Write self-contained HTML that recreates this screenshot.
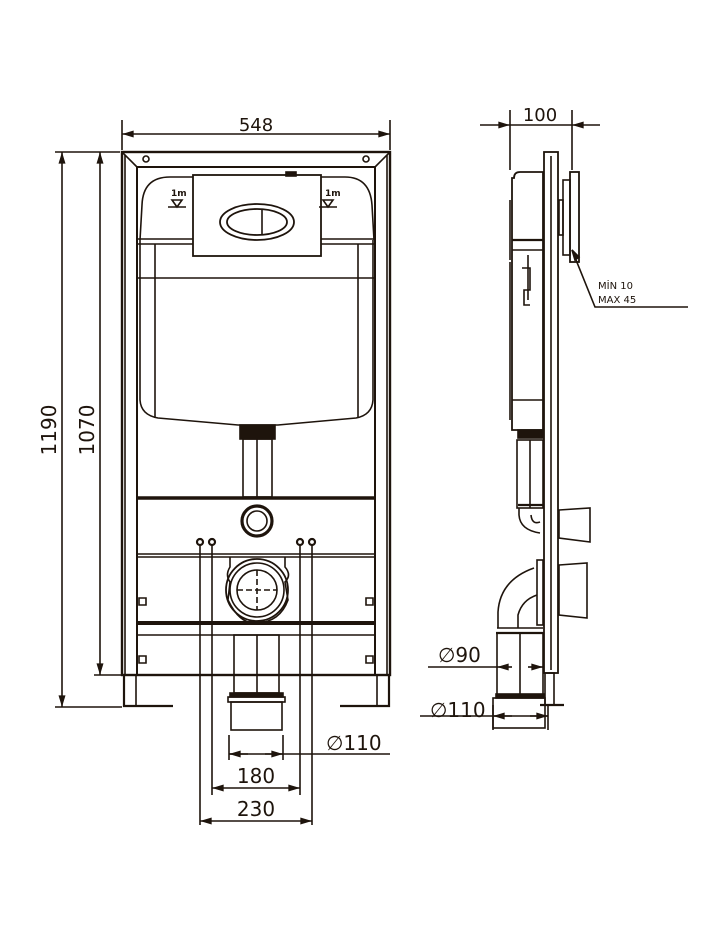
<!DOCTYPE html>
<html><head><style>html,body{margin:0;padding:0;background:#fff}svg{display:block}
text{font-family:"DejaVu Sans","Liberation Sans",sans-serif;fill:#1e140c}</style></head>
<body>
<svg width="720" height="942" viewBox="0 0 720 942" xmlns="http://www.w3.org/2000/svg">
<defs>
<marker id="a" viewBox="0 0 10 6" refX="10" refY="3" markerWidth="18" markerHeight="7" orient="auto-start-reverse" markerUnits="userSpaceOnUse"><path d="M0,0L10,3L0,6z" fill="#1e140c"/></marker>
</defs>
<g fill="none" stroke="#1e140c" stroke-width="1.6">
<!-- dims front -->
<line x1="122" y1="120" x2="122" y2="150"/><line x1="390" y1="120" x2="390" y2="150"/>
<line x1="122" y1="134" x2="390" y2="134" marker-start="url(#a)" marker-end="url(#a)"/>
<line x1="55" y1="152" x2="120" y2="152"/><line x1="55" y1="707" x2="122" y2="707"/><line x1="94" y1="675" x2="122" y2="675"/>
<line x1="62" y1="152" x2="62" y2="707" marker-start="url(#a)" marker-end="url(#a)"/>
<line x1="100" y1="152" x2="100" y2="675" marker-start="url(#a)" marker-end="url(#a)"/>
<!-- frame -->
<rect x="122" y="152" width="268" height="523" stroke-width="2.4"/>
<rect x="137" y="167" width="238" height="508" stroke-width="2"/>
<line x1="125" y1="155" x2="125" y2="675"/><line x1="387" y1="155" x2="387" y2="675"/>
<line x1="122" y1="152" x2="137" y2="167"/><line x1="390" y1="152" x2="375" y2="167"/>
<circle cx="146" cy="159" r="3"/><circle cx="366" cy="159" r="3"/>
<polyline points="124,675 124,706 173,706" stroke-width="2.2"/><line x1="136" y1="675" x2="136" y2="706"/>
<polyline points="389,675 389,706 340,706" stroke-width="2.2"/><line x1="377" y1="675" x2="377" y2="706"/>
<!-- tank -->
<path d="M193,177 H170 Q143,177 142,205 L140,240 M321,177 H345 Q370,177 372,205 L374,240"/>
<path d="M140,240 V400 Q141,415 158,418 L238,425 H278 L356,418 Q372,415 373,400 V240"/>
<line x1="137" y1="239" x2="375" y2="239"/><line x1="137" y1="244" x2="375" y2="244"/>
<line x1="138" y1="278" x2="375" y2="278"/>
<line x1="155" y1="244" x2="155" y2="418"/><line x1="358" y1="244" x2="358" y2="418"/>
<rect x="193" y="175" width="128" height="81" fill="#fff" stroke-width="1.8"/>
<ellipse cx="257" cy="222" rx="37" ry="18" stroke-width="1.8"/><ellipse cx="257" cy="222" rx="30" ry="13" stroke-width="1.8"/>
<line x1="262" y1="209" x2="262" y2="235"/>
<rect x="286" y="172" width="10" height="4" fill="#1e140c"/>
<path d="M172,200l5,7l5,-7z M168,207h18 M323,200l5,7l5,-7z M319,207h18"/>
<!-- pipe -->
<rect x="240" y="425" width="35" height="14" fill="#1e140c"/>
<rect x="243" y="439" width="29" height="58"/><line x1="257" y1="439" x2="257" y2="497"/>
<line x1="137" y1="498" x2="375" y2="498" stroke-width="3.5"/>
<line x1="137" y1="554" x2="375" y2="554"/><line x1="137" y1="557" x2="375" y2="557"/>
<circle cx="257" cy="521" r="15" stroke-width="3.2"/><circle cx="257" cy="521" r="10"/>
<circle cx="200" cy="542" r="3" stroke-width="2.2"/><circle cx="212" cy="542" r="3" stroke-width="2.2"/>
<circle cx="300" cy="542" r="3" stroke-width="2.2"/><circle cx="312" cy="542" r="3" stroke-width="2.2"/>
<path d="M230,557 V567 Q225,575 230,582 L228,600 Q240,625 257,623 Q280,622 288,600 L285,582 Q292,575 285,567 V557"/>
<circle cx="257" cy="590" r="31" stroke-width="1.8"/><circle cx="257" cy="590" r="27"/><circle cx="257" cy="590" r="20"/>
<path d="M237,590h40M257,570v40" stroke-dasharray="6 3"/>
<line x1="137" y1="623" x2="375" y2="623" stroke-width="4"/>
<line x1="137" y1="635" x2="375" y2="635"/>
<rect x="234" y="635" width="45" height="58"/><line x1="257" y1="635" x2="257" y2="693"/>
<rect x="230" y="693" width="53" height="4" fill="#1e140c"/>
<rect x="228" y="697" width="57" height="5"/><rect x="231" y="702" width="51" height="28"/>
<path d="M139,598h7v7h-7z M139,656h7v7h-7z M366,598h7v7h-7z M366,656h7v7h-7z"/>
<line x1="200" y1="545" x2="200" y2="825"/><line x1="212" y1="545" x2="212" y2="795"/>
<line x1="300" y1="545" x2="300" y2="795"/><line x1="312" y1="545" x2="312" y2="825"/>
<line x1="229" y1="735" x2="229" y2="760"/><line x1="283" y1="735" x2="283" y2="760"/>
<line x1="229" y1="754" x2="390" y2="754"/>
<line x1="248" y1="754" x2="229" y2="754" marker-end="url(#a)"/><line x1="265" y1="754" x2="283" y2="754" marker-end="url(#a)"/>
<line x1="212" y1="788" x2="300" y2="788" marker-start="url(#a)" marker-end="url(#a)"/>
<line x1="200" y1="821" x2="312" y2="821" marker-start="url(#a)" marker-end="url(#a)"/>
<!-- side view -->
<line x1="510" y1="110" x2="510" y2="170"/><line x1="572" y1="110" x2="572" y2="170"/>
<line x1="480" y1="125" x2="510" y2="125" marker-end="url(#a)"/><line x1="600" y1="125" x2="572" y2="125" marker-end="url(#a)"/>
<line x1="510" y1="125" x2="572" y2="125"/>
<rect x="544" y="152" width="14" height="521" stroke-width="1.8"/><line x1="551" y1="156" x2="551" y2="670"/>
<rect x="545" y="673" width="9" height="32"/><line x1="540" y1="705" x2="564" y2="705" stroke-width="2.2"/>
<path d="M514,178 Q514,172 520,172 H543 V430 H512 V178z" stroke-width="1.8"/>
<line x1="512" y1="240" x2="543" y2="240" stroke-width="2.2"/><line x1="512" y1="250" x2="543" y2="250"/>
<line x1="510" y1="200" x2="510" y2="260"/><line x1="510" y1="262" x2="510" y2="420"/>
<line x1="512" y1="400" x2="543" y2="400"/>
<path d="M528,255 V300 M522,268 H530 V290 H524 V305 H530"/>
<rect x="570" y="172" width="9" height="90" stroke-width="1.8"/><rect x="563" y="180" width="7" height="75"/>
<rect x="559" y="200" width="4" height="35"/>
<polyline points="572,250 595,307 688,307"/>
<path d="M572,250l3,10l4,-3z" fill="#1e140c"/>
<rect x="518" y="430" width="25" height="8" fill="#1e140c"/>
<rect x="517" y="440" width="26" height="68"/><line x1="530" y1="440" x2="530" y2="508"/>
<line x1="518" y1="505" x2="543" y2="505" stroke-width="2.2"/>
<path d="M519,508 V515 Q520,530 540,533 M531,515 Q532,525 540,522"/>
<polygon points="559,510 590,508 590,542 559,538"/>
<polygon points="559,565 587,563 587,618 559,615"/>
<path d="M498,628 V612 Q500,580 534,568 M518,628 V615 Q522,600 537,595"/>
<rect x="537" y="560" width="6" height="65"/>
<line x1="497" y1="628" x2="543" y2="628"/><line x1="496" y1="633" x2="543" y2="633" stroke-width="2.2"/>
<rect x="497" y="633" width="46" height="64"/><line x1="520" y1="633" x2="520" y2="697"/>
<rect x="496" y="694" width="48" height="4" fill="#1e140c"/>
<rect x="493" y="698" width="52" height="30"/>
<line x1="428" y1="667" x2="497" y2="667"/>
<line x1="512" y1="667" x2="497" y2="667" marker-end="url(#a)"/><line x1="528" y1="667" x2="543" y2="667" marker-end="url(#a)"/>
<line x1="420" y1="716" x2="548" y2="716"/>
<line x1="512" y1="716" x2="493" y2="716" marker-end="url(#a)"/><line x1="530" y1="716" x2="548" y2="716" marker-end="url(#a)"/>
<line x1="493" y1="705" x2="493" y2="730"/><line x1="548" y1="705" x2="548" y2="730"/>
</g>
<text x="256" y="131" font-size="18" text-anchor="middle">548</text>
<text x="540" y="121" font-size="18" text-anchor="middle">100</text>
<text transform="translate(56,430) rotate(-90)" font-size="20" text-anchor="middle">1190</text>
<text transform="translate(94,430) rotate(-90)" font-size="20" text-anchor="middle">1070</text>
<text x="326" y="750" font-size="20">∅110</text>
<text x="256" y="783" font-size="20" text-anchor="middle">180</text>
<text x="256" y="816" font-size="20" text-anchor="middle">230</text>
<text x="438" y="662" font-size="20">∅90</text>
<text x="430" y="717" font-size="20">∅110</text>
<text x="598" y="289" font-size="10">MİN  10</text>
<text x="598" y="303" font-size="10">MAX 45</text>
<text x="171" y="196" font-size="9" font-weight="bold">1m</text>
<text x="325" y="196" font-size="9" font-weight="bold">1m</text>
</svg>
</body></html>
